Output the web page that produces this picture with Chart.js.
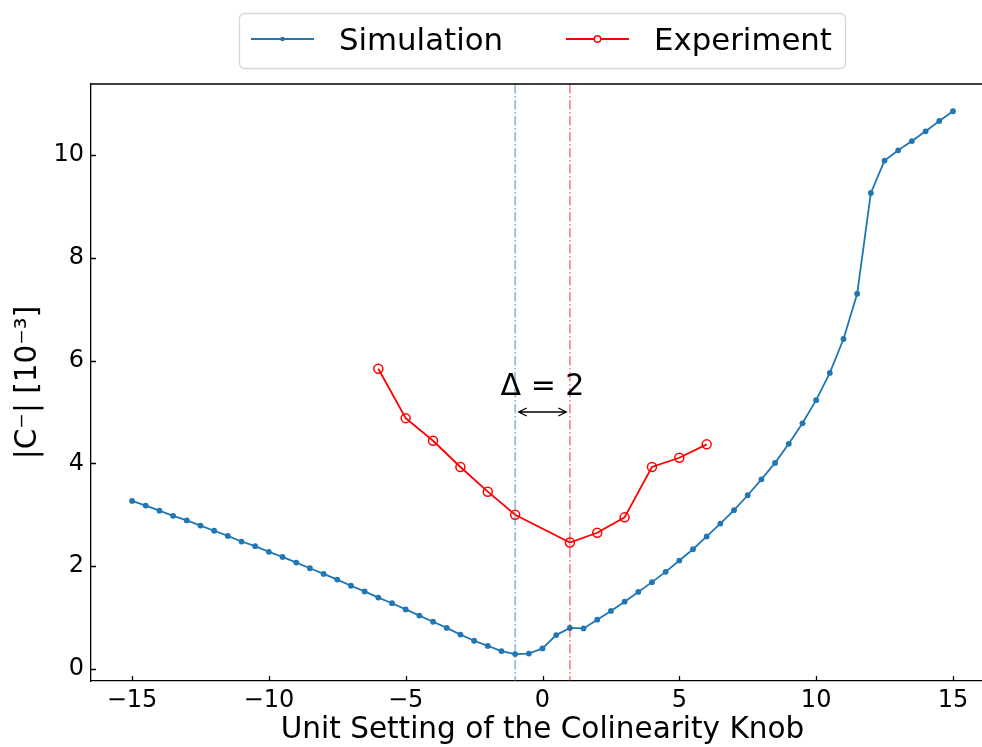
<!DOCTYPE html>
<html>
<head>
<meta charset="utf-8">
<script src="https://cdn.jsdelivr.net/npm/chart.js@4.4.1/dist/chart.umd.min.js"></script>
<style>
html, body { margin:0; padding:0; overflow:hidden; background:#ffffff; }
#wrap { position:relative; width:1000px; height:747px; }
</style>
</head>
<body>
<div id="wrap"><canvas id="myChart" width="1000" height="747"></canvas></div>
<script>
// data
const simX = [-15,-14.5,-14,-13.5,-13,-12.5,-12,-11.5,-11,-10.5,-10,-9.5,-9,-8.5,-8,-7.5,-7,-6.5,-6,-5.5,-5,-4.5,-4,-3.5,-3,-2.5,-2,-1.5,-1,-0.5,
  0,0.5,1,1.5,2,2.5,3,3.5,4,4.5,5,5.5,6,6.5,7,7.5,8,8.5,9,9.5,10,10.5,11,11.5,12,12.5,13,13.5,14,14.5,15];
const simY = [3.27,3.18,3.08,2.98,2.89,2.79,2.69,2.59,2.48,2.39,2.28,2.18,2.07,1.96,1.85,1.74,1.62,1.51,1.39,1.28,1.16,1.04,0.92,0.80,0.67,0.55,0.45,0.35,0.29,0.30,
  0.40,0.66,0.80,0.79,0.96,1.13,1.31,1.50,1.69,1.89,2.11,2.33,2.58,2.83,3.09,3.38,3.69,4.01,4.38,4.78,5.23,5.76,6.42,7.30,9.26,9.89,10.09,10.27,10.46,10.66,10.85];
const expX = [-6,-5,-4,-3,-2,-1,1,2,3,4,5,6];
const expY = [5.84,4.88,4.44,3.93,3.45,3.00,2.46,2.65,2.95,3.93,4.11,4.37];

const xTicks = [-15,-10,-5,0,5,10,15];
const yTicks = [0,2,4,6,8,10];

// marker lines and the delta note
const simMin = -1;
const expMin = 1;
const deltaLabel = "\u0394 = 2";
const deltaLabelX = 0;
const deltaLabelY = 5.33;
const arrowFrom = -0.87;
const arrowTo = 0.87;
const arrowY = 5.0;

const blue = "#1f77b4";
const red = "#ff0000";
const font = "'DejaVu Sans', sans-serif";

const minusFmt = v => v < 0 ? "\u2212" + Math.abs(v) : String(v);

// inward tick marks, top spine, vlines, arrow, text
const extras = {
  id: "extras",
  afterDatasetsDraw(chart) {
    const ctx = chart.ctx;
    const a = chart.chartArea;
    const xs = chart.scales.x;
    const ys = chart.scales.y;
    ctx.save();

    // dash-dot vertical lines
    ctx.lineWidth = 1.6;
    ctx.setLineDash([9.6, 2.4, 1.6, 2.4]);
    ctx.strokeStyle = "rgba(31,119,180,0.5)";
    let px = xs.getPixelForValue(simMin);
    ctx.beginPath(); ctx.moveTo(px, a.top); ctx.lineTo(px, a.bottom); ctx.stroke();
    ctx.strokeStyle = "rgba(255,0,0,0.5)";
    px = xs.getPixelForValue(expMin);
    ctx.beginPath(); ctx.moveTo(px, a.top); ctx.lineTo(px, a.bottom); ctx.stroke();
    ctx.setLineDash([]);

    // double arrow
    const x1 = xs.getPixelForValue(arrowFrom);
    const x2 = xs.getPixelForValue(arrowTo);
    const ay = ys.getPixelForValue(arrowY);
    ctx.strokeStyle = "#000";
    ctx.lineWidth = 1.3;
    ctx.beginPath();
    ctx.moveTo(x1, ay); ctx.lineTo(x2, ay);
    ctx.moveTo(x1 + 8, ay - 4); ctx.lineTo(x1, ay); ctx.lineTo(x1 + 8, ay + 4);
    ctx.moveTo(x2 - 8, ay - 4); ctx.lineTo(x2, ay); ctx.lineTo(x2 - 8, ay + 4);
    ctx.stroke();

    ctx.fillStyle = "#000";
    ctx.font = "30px " + font;
    ctx.textAlign = "center";
    ctx.textBaseline = "alphabetic";
    ctx.fillText(deltaLabel, xs.getPixelForValue(deltaLabelX), ys.getPixelForValue(deltaLabelY));

    // spines + ticks
    ctx.lineWidth = 1.3;
    ctx.beginPath();
    ctx.moveTo(a.left, a.top); ctx.lineTo(a.right, a.top);
    xTicks.forEach(v => {
      const p = Math.round(xs.getPixelForValue(v)) + 0.5;
      ctx.moveTo(p, a.bottom); ctx.lineTo(p, a.bottom - 5);
    });
    yTicks.forEach(v => {
      const p = Math.round(ys.getPixelForValue(v)) + 0.5;
      ctx.moveTo(a.left, p); ctx.lineTo(a.left + 5, p);
    });
    ctx.stroke();
    ctx.restore();
  },
  afterDraw(chart) {
    // legend box like matplotlib's
    const ctx = chart.ctx;
    ctx.save();
    ctx.fillStyle = "rgba(255,255,255,0.8)";
    ctx.strokeStyle = "#d6d6d6";
    ctx.lineWidth = 1.3;
    ctx.beginPath();
    ctx.roundRect(239.5, 13.5, 606, 55, 5);
    ctx.fill();
    ctx.stroke();

    const items = [
      {label: "Simulation", color: blue, x: 251, open: false},
      {label: "Experiment", color: red, x: 566, open: true}
    ];
    items.forEach(it => {
      ctx.strokeStyle = it.color;
      ctx.lineWidth = 1.8;
      ctx.beginPath(); ctx.moveTo(it.x, 39); ctx.lineTo(it.x + 63, 39); ctx.stroke();
      ctx.beginPath();
      if (it.open) {
        ctx.arc(it.x + 31.5, 39, 3.2, 0, Math.PI * 2);
        ctx.lineWidth = 1.4;
        ctx.fillStyle = "#fff";
        ctx.fill();
        ctx.stroke();
      } else {
        ctx.arc(it.x + 31.5, 39, 2.3, 0, Math.PI * 2);
        ctx.fillStyle = it.color;
        ctx.fill();
      }
      ctx.fillStyle = "#000";
      ctx.font = "30.8px " + font;
      ctx.textAlign = "left";
      ctx.textBaseline = "alphabetic";
      ctx.fillText(it.label, it.x + 88, 50);
    });
    ctx.restore();
  }
};

new Chart("myChart", {
  type: "line",
  data: {
    datasets: [{
      label: "Simulation",
      data: simX.map((x, i) => ({x: x, y: simY[i]})),
      borderColor: blue,
      backgroundColor: blue,
      borderWidth: 1.8,
      pointRadius: 2.9,
      pointBorderWidth: 0,
      pointBackgroundColor: blue,
      tension: 0,
      order: 1
    }, {
      label: "Experiment",
      data: expX.map((x, i) => ({x: x, y: expY[i]})),
      borderColor: red,
      backgroundColor: "transparent",
      borderWidth: 1.8,
      pointRadius: 4.5,
      pointBorderWidth: 1.5,
      pointBorderColor: red,
      pointBackgroundColor: "rgba(0,0,0,0)",
      tension: 0,
      order: 0
    }]
  },
  options: {
    responsive: false,
    animation: false,
    devicePixelRatio: 1,
    layout: {padding: {left: 0, right: 0, top: 84, bottom: 0}},
    plugins: {legend: {display: false}, tooltip: {enabled: false}},
    scales: {
      x: {
        type: "linear",
        min: -16.5,
        max: 16.5,
        afterBuildTicks: s => { s.ticks = xTicks.map(v => ({value: v})); },
        afterFit: s => { s.height = 66; },
        grid: {display: true, drawOnChartArea: false, drawTicks: false},
        border: {display: true, color: "#000", width: 1.3},
        ticks: {color: "#000", padding: 5, font: {family: font, size: 24}, maxRotation: 0, callback: minusFmt},
        title: {display: true, text: "Unit Setting of the Colinearity Knob", color: "#000",
                font: {family: font, size: 29.5, lineHeight: 1}, padding: {top: 0, bottom: 2}}
      },
      y: {
        type: "linear",
        min: -0.233,
        max: 11.38,
        afterBuildTicks: s => { s.ticks = yTicks.map(v => ({value: v})); },
        afterFit: s => { s.width = 91; },
        grid: {display: true, drawOnChartArea: false, drawTicks: false},
        border: {display: true, color: "#000", width: 1.3},
        ticks: {color: "#000", padding: 7, font: {family: font, size: 24}, callback: minusFmt},
        title: {display: true, text: "|C\u207B| [10\u207B\u00B3]", color: "#000",
                font: {family: font, size: 29.5, lineHeight: 1}, padding: {top: 14, bottom: 0}}
      }
    }
  },
  plugins: [extras]
});
</script>
</body>
</html>
